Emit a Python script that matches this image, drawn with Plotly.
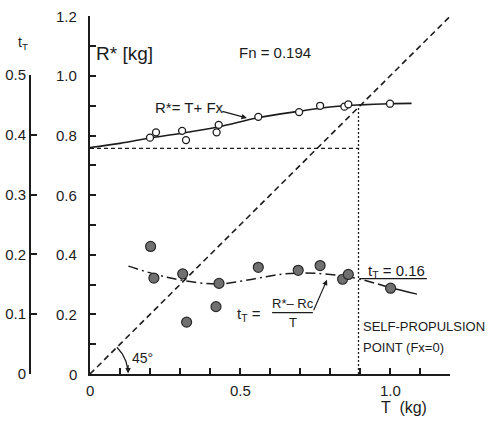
import numpy as np
import plotly.graph_objects as go

# Towed resistance R* [kg] against propeller thrust T [kg]  (open circles)
t_open = [0.200, 0.220, 0.307, 0.320, 0.422, 0.429, 0.561, 0.697, 0.767, 0.848, 0.861, 1.000]
r_open = [0.793, 0.811, 0.816, 0.785, 0.811, 0.836, 0.863, 0.879, 0.900, 0.897, 0.905, 0.907]

# Thrust deduction fraction tT against T  (filled circles)
t_fill = [0.202, 0.213, 0.309, 0.322, 0.420, 0.430, 0.561, 0.694, 0.767, 0.842, 0.861, 1.002]
tt_fill = [0.214, 0.161, 0.168, 0.087, 0.113, 0.152, 0.179, 0.174, 0.182, 0.159, 0.167, 0.144]

# Faired curve R* = T + Fx
t_rfair = [0.0, 0.1, 0.2, 0.3, 0.43, 0.56, 0.7, 0.8, 0.9, 1.0, 1.072]
r_rfair = [0.760, 0.774, 0.792, 0.807, 0.830, 0.860, 0.882, 0.896, 0.903, 0.907, 0.908]

# Faired tT curve (chain-dotted part, then solid tail)
t_tfair = [0.128, 0.22, 0.31, 0.43, 0.55, 0.65, 0.75, 0.85, 0.90, 0.96]
tt_tfair = [0.181, 0.167, 0.157, 0.151, 0.160, 0.168, 0.169, 0.164, 0.159, 0.151]
t_ttail = [0.96, 1.00, 1.09]
tt_ttail = [0.151, 0.145, 0.134]

RC = 0.757          # resistance without propeller
T_SP = 0.895        # self-propulsion point, R* = T
TT_MEAN = 0.16      # mean thrust deduction
TT_MEAN_SPAN = [0.90, 1.123]

x_ticks = [round(0.1 * i, 1) for i in range(13)]
x_ticktext = ["0" if v == 0 else ("0.5" if v == 0.5 else ("1.0" if v == 1.0 else "")) for v in x_ticks]
y_ticks = [round(0.1 * i, 1) for i in range(13)]
y_ticktext = [("0" if i == 0 else f"{0.1 * i:.1f}") if i % 2 == 0 else "" for i in range(13)]
tt_ticks = [0, 0.1, 0.2, 0.3, 0.4, 0.5]
tt_ticktext = ["0", "0.1", "0.2", "0.3", "0.4", "0.5"]

INK = "#1c1c1c"
FONT = "Liberation Sans Narrow, Liberation Sans, Arial, sans-serif"

X_DOM = [90 / 496, 450 / 496]
Y_DOM = [48 / 422, 405.6 / 422]
TT_DOM = [48 / 422, 347 / 422]

fig = go.Figure()

# 45 degree line R* = T
fig.add_trace(go.Scatter(x=[0, 1.2], y=[0, 1.2], mode="lines",
                         line=dict(color=INK, width=1.6, dash="6px,4px"), hoverinfo="skip"))
# Rc level
fig.add_trace(go.Scatter(x=[0, T_SP], y=[RC, RC], mode="lines",
                         line=dict(color=INK, width=1.4, dash="4px,3px"), hoverinfo="skip"))
# self-propulsion vertical
fig.add_trace(go.Scatter(x=[T_SP, T_SP], y=[0, T_SP], mode="lines",
                         line=dict(color=INK, width=1.3, dash="2px,2px"), hoverinfo="skip"))
# faired R* curve
fig.add_trace(go.Scatter(x=t_rfair, y=r_rfair, mode="lines", line_shape="spline",
                         line=dict(color=INK, width=1.6), hoverinfo="skip"))
# R* points
fig.add_trace(go.Scatter(x=t_open, y=r_open, mode="markers",
                         marker=dict(symbol="circle", size=7, color="white",
                                     line=dict(color=INK, width=1.3))))

# tT curve and points, on a hidden axis overlaying the R* axis (tT = R*/2 scale)
fig.add_trace(go.Scatter(x=t_tfair, y=tt_tfair, yaxis="y2", mode="lines", line_shape="spline",
                         line=dict(color=INK, width=1.5, dash="10px,4px,2px,4px"), hoverinfo="skip"))
fig.add_trace(go.Scatter(x=t_ttail, y=tt_ttail, yaxis="y2", mode="lines", line_shape="spline",
                         line=dict(color=INK, width=1.5), hoverinfo="skip"))
fig.add_trace(go.Scatter(x=TT_MEAN_SPAN, y=[TT_MEAN, TT_MEAN], yaxis="y2", mode="lines",
                         line=dict(color=INK, width=1.4), hoverinfo="skip"))
fig.add_trace(go.Scatter(x=t_fill, y=tt_fill, yaxis="y2", mode="markers",
                         marker=dict(symbol="circle", size=10, color="#707070",
                                     line=dict(color="#2a2a2a", width=1.2))))

# 45 degree angle arc
ARC_R = 0.127
ang = np.radians(np.linspace(45, 7, 30))
fig.add_trace(go.Scatter(x=ARC_R * np.cos(ang), y=ARC_R * np.sin(ang), mode="lines",
                         line=dict(color=INK, width=1.3), hoverinfo="skip"))

# fraction bar of the tT definition
fig.add_trace(go.Scatter(x=[0.607, 0.743], y=[0.103, 0.103], yaxis="y2", mode="lines",
                         line=dict(color=INK, width=1.2), hoverinfo="skip"))

# carrier for the separate tT scale on the left
fig.add_trace(go.Scatter(x=[0], y=[0], xaxis="x2", yaxis="y3", mode="markers",
                         marker=dict(opacity=0), hoverinfo="skip"))

ax_common = dict(showline=True, linecolor=INK, linewidth=2, ticks="inside", ticklen=6,
                 tickwidth=1.5, tickcolor=INK, showgrid=False, zeroline=False,
                 tickfont=dict(family=FONT, size=15, color=INK))

fig.update_layout(
    width=496, height=422, margin=dict(l=0, r=0, t=0, b=0, autoexpand=False),
    paper_bgcolor="white", plot_bgcolor="rgba(0,0,0,0)", showlegend=False,
    xaxis=dict(domain=X_DOM, range=[0, 1.2], tickvals=x_ticks, showticklabels=False,
               anchor="y", **ax_common),
    yaxis=dict(domain=Y_DOM, range=[0, 1.2], tickvals=y_ticks, showticklabels=False,
               anchor="x", **ax_common),
    yaxis2=dict(overlaying="y", range=[0, 0.6], visible=False, anchor="x"),
    xaxis2=dict(domain=X_DOM, range=[0, 1.2], visible=False, anchor="y3"),
    yaxis3=dict(domain=TT_DOM, range=[0, 0.5], tickvals=tt_ticks, ticktext=tt_ticktext,
                anchor="free", position=30 / 496, side="left", **ax_common),
)

def txt(x, y, s, size=14, xanchor="center", yref="y", xref="x", xshift=0, yshift=0):
    fig.add_annotation(x=x, y=y, xref=xref, yref=yref, text=s, showarrow=False,
                       xanchor=xanchor, yanchor="middle", xshift=xshift, yshift=yshift,
                       font=dict(family=FONT, size=size, color=INK))

# tick labels of the main axes, set a little further off the axis lines
for v, s in zip(x_ticks, x_ticktext):
    if s:
        txt(v, 0, s, size=15, yshift=-16)
for v, s in zip(y_ticks, y_ticktext):
    if s:
        txt(0, v, s, size=15, xanchor="right", xshift=-11)

txt(0.012, 1.075, "R* [kg]", size=19, xanchor="left")
txt(0.49, 1.078, "Fn = 0.194", size=15, xanchor="left")
txt(0.21, 0.893, "R*= T+ Fx", size=15, xanchor="left")
txt(-0.01, 0.733, "Rc", size=12, xanchor="right")
txt(1.02, 0.172, "t<sub>T</sub> = 0.16", size=15, yref="y2")
txt(0.53, 0.100, "t<sub>T</sub> =", size=15, yref="y2")
txt(0.675, 0.118, "R*– Rc", size=13, yref="y2")
txt(0.675, 0.087, "T", size=13, yref="y2")
txt(0.903, 0.080, "SELF-PROPULSION", size=13, xanchor="left", yref="y2")
txt(0.903, 0.045, "POINT (Fx=0)", size=13, xanchor="left", yref="y2")
txt(0.133, 0.055, "45°", size=14, xanchor="left")
txt(1.045, 15 / 422, "T  (kg)", size=16, yref="paper")
txt(23 / 496, 1 - 43 / 422, "t<sub>T</sub>", size=14, xref="paper", yref="paper")

# arrows
fig.add_annotation(x=0.523, y=0.859, ax=-26, ay=-7, xref="x", yref="y", text="",
                   showarrow=True, arrowhead=2, arrowsize=0.9, arrowwidth=1.2, arrowcolor=INK)
fig.add_annotation(x=0.79, y=0.158, ax=-14, ay=32, xref="x", yref="y2", text="",
                   showarrow=True, arrowhead=2, arrowsize=0.9, arrowwidth=1.2, arrowcolor=INK)
fig.add_annotation(x=ARC_R, y=0.002, ax=0, ay=-10, xref="x", yref="y", text="",
                   showarrow=True, arrowhead=2, arrowsize=0.9, arrowwidth=1.2, arrowcolor=INK)

fig.write_html("out.html")
